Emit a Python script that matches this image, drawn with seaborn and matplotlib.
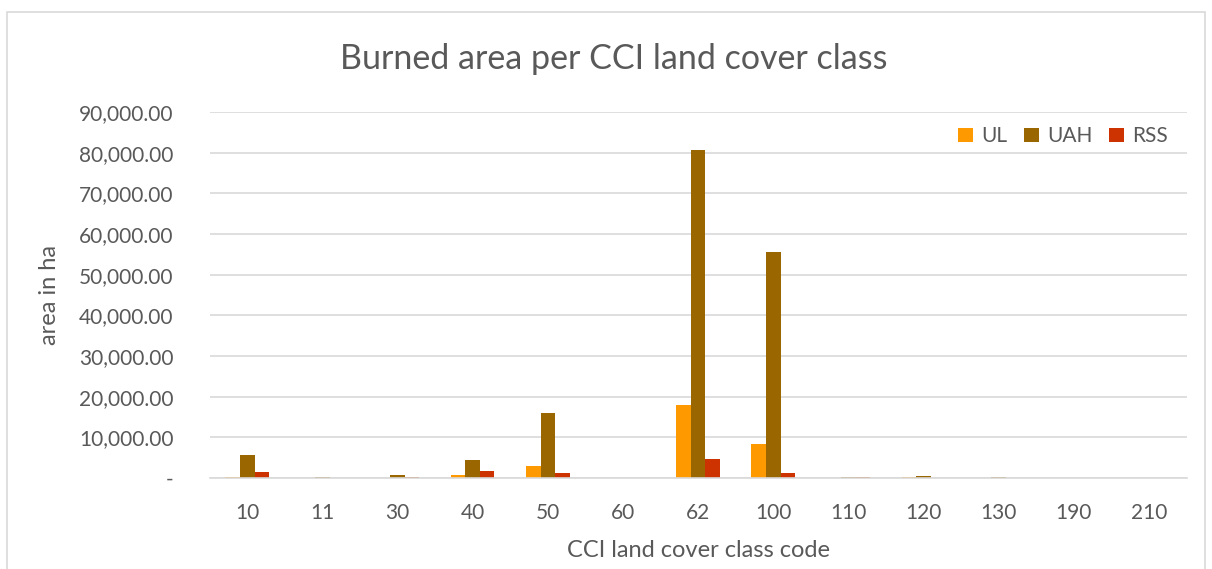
import pandas as pd
import matplotlib.pyplot as plt
import seaborn as sns
from matplotlib.patches import Rectangle
from matplotlib.ticker import FuncFormatter

# land cover classes and burned area (ha) per dataset
classes = ["10", "11", "30", "40", "50", "60", "62", "100", "110", "120", "130", "190", "210"]
ul = [300, 80, 100, 800, 3000, 60, 17900, 8300, 80, 120, 60, 40, 40]
uah = [5650, 120, 700, 4400, 16000, 100, 80650, 55500, 150, 500, 120, 80, 60]
rss = [1500, 80, 200, 1600, 1200, 60, 4600, 1200, 120, 100, 60, 40, 60]

series = ["UL", "UAH", "RSS"]
colors = ["#FF9900", "#996600", "#CC3300"]

df = pd.DataFrame({"class": classes, "UL": ul, "UAH": uah, "RSS": rss})
long_df = df.melt(id_vars="class", var_name="dataset", value_name="area")

sns.set_style("white")
plt.rcParams["font.family"] = ["Lato", "DejaVu Sans"]
text_color = "#595959"

fig = plt.figure(figsize=(12.12, 5.69), dpi=100)
ax = fig.add_axes([0.173, 0.160, 0.806, 0.643])

sns.barplot(data=long_df, x="class", y="area", hue="dataset", hue_order=series,
            palette=colors, width=0.58, gap=0, ax=ax, saturation=1, errorbar=None,
            linewidth=0)

ax.set_ylim(0, 90000)
ax.set_yticks(range(0, 90001, 10000))
ax.yaxis.set_major_formatter(FuncFormatter(lambda v, p: "-" if v == 0 else f"{v:,.2f}"))
ax.grid(axis="y", color="#D9D9D9", linewidth=1.2)
ax.set_axisbelow(True)
for side in ["top", "right", "left"]:
    ax.spines[side].set_visible(False)
ax.spines["bottom"].set_color("#D9D9D9")
ax.spines["bottom"].set_linewidth(1.2)
ax.tick_params(axis="both", length=0, labelsize=15, colors=text_color)
ax.tick_params(axis="x", pad=18)
ax.tick_params(axis="y", pad=26)

ax.set_xlabel("CCI land cover class code", fontsize=17, color=text_color, labelpad=12)
ax.set_ylabel("area in ha", fontsize=17, color=text_color, labelpad=14)
fig.text(0.506, 0.896, "Burned area per CCI land cover class", ha="center", va="center",
         fontsize=24.5, color=text_color)

leg = ax.legend(loc="upper right", ncol=3, frameon=False, fontsize=15,
                handlelength=0.7, handleheight=0.7, columnspacing=0.8, handletextpad=0.4,
                bbox_to_anchor=(1.0, 1.012))
for t in leg.get_texts():
    t.set_color(text_color)

# chart border
fig.patches.append(Rectangle((7 / 1212, -0.05), 1198 / 1212, 1.05 - 12 / 569,
                             transform=fig.transFigure, fill=False,
                             edgecolor="#D9D9D9", linewidth=1.2))

fig.savefig("out.png", dpi=100)
